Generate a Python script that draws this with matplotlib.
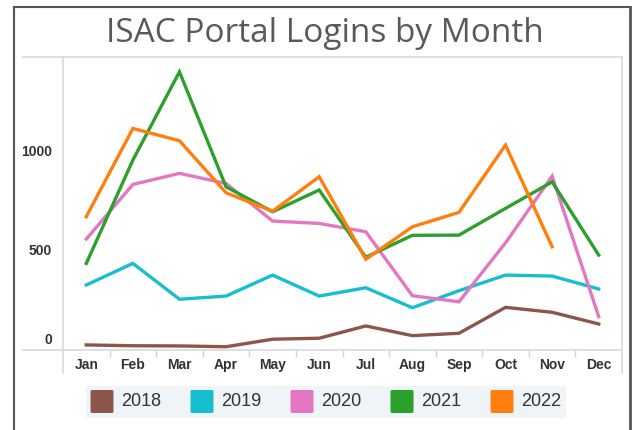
import matplotlib
matplotlib.use("Agg")
import matplotlib.pyplot as plt
from matplotlib.lines import Line2D
from matplotlib.patches import Rectangle, FancyBboxPatch

months = ["Jan", "Feb", "Mar", "Apr", "May", "Jun", "Jul", "Aug", "Sep", "Oct", "Nov", "Dec"]
years = ["2018", "2019", "2020", "2021", "2022"]
v2018 = [23, 19, 18, 14, 52, 57, 119, 70, 82, 213, 188, 129]
v2019 = [326, 435, 254, 270, 376, 270, 312, 211, 297, 376, 371, 306]
v2020 = [558, 834, 890, 839, 649, 637, 595, 272, 241, 539, 876, 166]
v2021 = [435, 957, 1403, 822, 696, 806, 466, 577, 578, 713, 847, 477]
v2022 = [671, 1117, 1055, 792, 699, 873, 456, 620, 693, 1033, 519]
series = [v2018, v2019, v2020, v2021, v2022]
colors = ["#8c564b", "#17becf", "#e377c2", "#2ca02c", "#ff7f0e"]
yticks = [0, 500, 1000]

W, H = 633, 430
fig = plt.figure(figsize=(W / 100, H / 100), dpi=100)
fig.patch.set_facecolor("white")

def fx(px):
    return px / W

def fy(py):
    return 1 - py / H

ax = fig.add_axes([fx(63), fy(349.5), fx(622) - fx(63), fy(57) - fy(349.5)])
for s in ax.spines.values():
    s.set_visible(False)

x = list(range(len(months)))
for vals, c in zip(series, colors):
    ax.plot(x[:len(vals)], vals, color=c, lw=2.4, solid_joinstyle="miter", zorder=3)

ax.set_xlim(-0.5, 11.5)
ax.set_ylim(0, 1478)
ax.set_xticks(x)
ax.set_xticklabels(months, fontsize=10, fontweight="bold", color="#333333",
                   family="Liberation Sans")
ax.tick_params(axis="x", which="major", length=0, pad=6)
ax.set_xticks([i + 0.5 for i in range(11)], minor=True)
ax.tick_params(axis="x", which="minor", length=5, color="#d4d4d4", width=1)
ax.set_yticks([])
for v in yticks:
    off = 9 if v == 0 else 0
    ax.text(-0.02, v, str(v), transform=ax.get_yaxis_transform(),
            ha="right", va="center", fontsize=10, fontweight="bold",
            color="#333333", family="Liberation Sans")
ax.texts[0].set_y(0)
import matplotlib.transforms as mtransforms
ax.texts[0].set_transform(mtransforms.offset_copy(ax.get_yaxis_transform(), fig=fig, x=0, y=9, units="dots"))

# plot box lines
gc = "#d9d9d9"
fig.add_artist(Line2D([fx(23), fx(622)], [fy(57), fy(57)], color=gc, lw=1.2))
fig.add_artist(Line2D([fx(23), fx(622)], [fy(349.5), fy(349.5)], color=gc, lw=1.2))
fig.add_artist(Line2D([fx(63), fx(63)], [fy(57), fy(373)], color=gc, lw=1.2))
fig.add_artist(Line2D([fx(622), fx(622)], [fy(57), fy(373)], color=gc, lw=1.2))

# outer frame
fc = "#555555"
fig.add_artist(Line2D([fx(14), fx(630)], [fy(7), fy(7)], color=fc, lw=1.5))
fig.add_artist(Line2D([fx(14), fx(14)], [fy(7), 0], color=fc, lw=1.5))
fig.add_artist(Line2D([fx(630), fx(630)], [fy(7), 0], color=fc, lw=2))

# title
fig.text(fx(325), fy(33), "ISAC Portal Logins by Month", ha="center", va="center",
         fontsize=24, color="#595959", family="Open Sans")

# legend
fig.add_artist(Rectangle((fx(86), fy(418)), fx(566) - fx(86), fy(386) - fy(418),
                         facecolor="#eef4f8", edgecolor="none"))
for i, (yr, c) in enumerate(zip(years, colors)):
    x0 = 90.5 + 100 * i
    fig.add_artist(FancyBboxPatch((fx(x0), fy(413)), fx(23), fy(390) - fy(413),
                                  boxstyle="round,pad=0,rounding_size=0.003",
                                  facecolor=c, edgecolor="none"))
    fig.text(fx(x0 + 31), fy(402), yr, ha="left", va="center", fontsize=13,
             color="#333333", family="Liberation Sans")

fig.savefig("out.png", dpi=100)
